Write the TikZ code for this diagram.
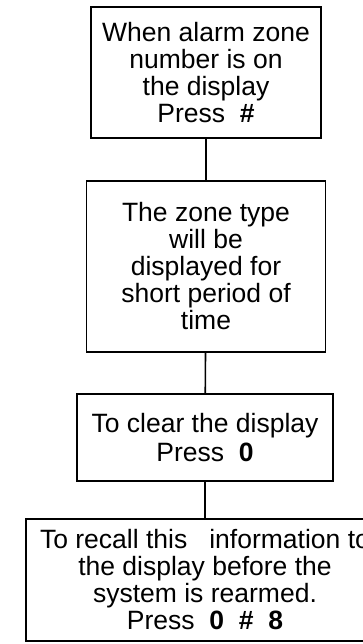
\documentclass[tikz,border=0pt]{standalone}
\usepackage{fontspec}
\setmainfont{Liberation Sans}

\tikzset{
  stepbox/.style={draw,line width=1.6pt,align=center,inner sep=0pt,
    font=\fontsize{26.5}{27}\selectfont},
  link/.style={line width=1.6pt}
}

\begin{document}
\begin{tikzpicture}[x=1pt,y=-1pt]
  \useasboundingbox (0,0) rectangle (363,644);
  \clip (0,0) rectangle (363,644);
  \node[stepbox,minimum width=230pt,minimum height=131pt] (alarm) at (206,72.5) {When alarm zone\\number is on\\the display\\Press\ \ \textbf{\#}};
  \node[stepbox,minimum width=239pt,minimum height=171pt] (ztype) at (206,266.5) {The zone type\\will be\\displayed for\\short period of\\time};
  \node[stepbox,minimum width=256pt,minimum height=87pt] (clear) at (205,437.5) {To clear the display\\[2pt]Press\ \ \textbf{0}};
  \node[stepbox,minimum width=358pt,minimum height=122pt] (recall) at (205,580) {To recall this\hspace{22pt}information to\\the display before the\\system is rearmed.\\Press\ \ \textbf{0}\ \ \textbf{\#}\ \ \textbf{8}};
  \draw[link] (alarm) -- (ztype);
  \draw[link] (ztype) -- (clear);
  \draw[link] (clear) -- (recall);
\end{tikzpicture}
\end{document}
